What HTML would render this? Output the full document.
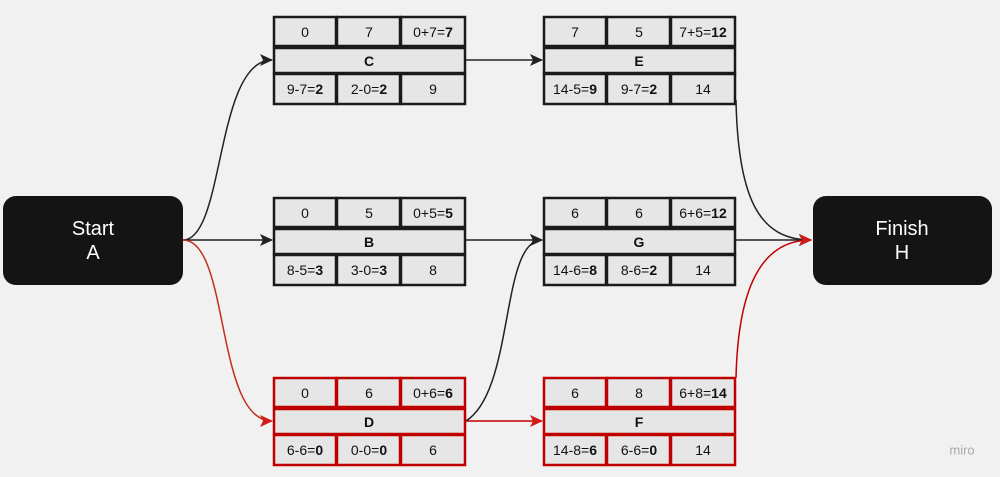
<!DOCTYPE html>
<html><head><meta charset="utf-8"><style>
html,body{margin:0;padding:0;background:#f1f1f1;}
svg{display:block;font-family:"Liberation Sans",Arial,sans-serif;}
.c{fill:#e6e6e6;stroke-width:2.5}
.k .c{stroke:#1a1a1a}
.r .c{stroke:#c00000}
text{font-size:14px;fill:#111;text-anchor:middle;dominant-baseline:central}
</style></head><body>
<svg width="1000" height="477" viewBox="0 0 1000 477">
<defs>
<marker id="ak" markerWidth="13" markerHeight="12" refX="12" refY="6" orient="auto" markerUnits="userSpaceOnUse"><path d="M0,0 L13,6 L0,12 L3,6z" fill="#222"/></marker>
<marker id="ar" markerWidth="13" markerHeight="12" refX="12" refY="6" orient="auto" markerUnits="userSpaceOnUse"><path d="M0,0 L13,6 L0,12 L3,6z" fill="#d21a1a"/></marker>
</defs>
<rect x="3" y="196" width="180" height="89" rx="13" fill="#141414"/>
<text x="93" y="229" style="fill:#fff;font-size:20px">Start</text>
<text x="93" y="253" style="fill:#fff;font-size:20px">A</text>
<rect x="813" y="196" width="179" height="89" rx="13" fill="#141414"/>
<text x="902" y="229" style="fill:#fff;font-size:20px">Finish</text>
<text x="902" y="253" style="fill:#fff;font-size:20px">H</text>
<g fill="none" stroke-width="1.5">
<path d="M183,240 C225,240 215,60 272,60" stroke="#222" marker-end="url(#ak)"/>
<path d="M183,240 L272,240" stroke="#222" marker-end="url(#ak)"/>
<path d="M183,240 C230,240 215,421 272,421" stroke="#c0301a" marker-end="url(#ar)"/>
<path d="M466,60 L542,60" stroke="#222" marker-end="url(#ak)"/>
<path d="M466,240 L542,240" stroke="#222" marker-end="url(#ak)"/>
<path d="M466,421 L542,421" stroke="#c00000" marker-end="url(#ar)"/>
<path d="M466,421 C515,390 500,240 542,240" stroke="#222" marker-end="url(#ak)"/>
<path d="M736,100 C738,200 760,240 811,240" stroke="#222" marker-end="url(#ak)"/>
<path d="M736,240 L811,240" stroke="#222" marker-end="url(#ak)"/>
<path d="M736,378 C738,290 760,240 811,240" stroke="#c00000" marker-end="url(#ar)"/>
</g>
<g class="k" transform="translate(273,16)">
<rect class="c" x="1" y="1" width="62" height="29"/><rect class="c" x="64" y="1" width="63" height="29"/><rect class="c" x="128" y="1" width="64" height="29"/>
<rect class="c" x="1" y="32" width="191" height="25"/>
<rect class="c" x="1" y="58" width="62" height="30"/><rect class="c" x="64" y="58" width="63" height="30"/><rect class="c" x="128" y="58" width="64" height="30"/>
<text x="32" y="16">0</text><text x="96" y="16">7</text><text x="160" y="16">0+7=<tspan font-weight="bold">7</tspan></text>
<text x="96" y="45" font-weight="bold">C</text>
<text x="32" y="73">9-7=<tspan font-weight="bold">2</tspan></text><text x="96" y="73">2-0=<tspan font-weight="bold">2</tspan></text><text x="160" y="73">9</text>
</g>
<g class="k" transform="translate(273,197)">
<rect class="c" x="1" y="1" width="62" height="29"/><rect class="c" x="64" y="1" width="63" height="29"/><rect class="c" x="128" y="1" width="64" height="29"/>
<rect class="c" x="1" y="32" width="191" height="25"/>
<rect class="c" x="1" y="58" width="62" height="30"/><rect class="c" x="64" y="58" width="63" height="30"/><rect class="c" x="128" y="58" width="64" height="30"/>
<text x="32" y="16">0</text><text x="96" y="16">5</text><text x="160" y="16">0+5=<tspan font-weight="bold">5</tspan></text>
<text x="96" y="45" font-weight="bold">B</text>
<text x="32" y="73">8-5=<tspan font-weight="bold">3</tspan></text><text x="96" y="73">3-0=<tspan font-weight="bold">3</tspan></text><text x="160" y="73">8</text>
</g>
<g class="r" transform="translate(273,377)">
<rect class="c" x="1" y="1" width="62" height="29"/><rect class="c" x="64" y="1" width="63" height="29"/><rect class="c" x="128" y="1" width="64" height="29"/>
<rect class="c" x="1" y="32" width="191" height="25"/>
<rect class="c" x="1" y="58" width="62" height="30"/><rect class="c" x="64" y="58" width="63" height="30"/><rect class="c" x="128" y="58" width="64" height="30"/>
<text x="32" y="16">0</text><text x="96" y="16">6</text><text x="160" y="16">0+6=<tspan font-weight="bold">6</tspan></text>
<text x="96" y="45" font-weight="bold">D</text>
<text x="32" y="73">6-6=<tspan font-weight="bold">0</tspan></text><text x="96" y="73">0-0=<tspan font-weight="bold">0</tspan></text><text x="160" y="73">6</text>
</g>
<g class="k" transform="translate(543,16)">
<rect class="c" x="1" y="1" width="62" height="29"/><rect class="c" x="64" y="1" width="63" height="29"/><rect class="c" x="128" y="1" width="64" height="29"/>
<rect class="c" x="1" y="32" width="191" height="25"/>
<rect class="c" x="1" y="58" width="62" height="30"/><rect class="c" x="64" y="58" width="63" height="30"/><rect class="c" x="128" y="58" width="64" height="30"/>
<text x="32" y="16">7</text><text x="96" y="16">5</text><text x="160" y="16">7+5=<tspan font-weight="bold">12</tspan></text>
<text x="96" y="45" font-weight="bold">E</text>
<text x="32" y="73">14-5=<tspan font-weight="bold">9</tspan></text><text x="96" y="73">9-7=<tspan font-weight="bold">2</tspan></text><text x="160" y="73">14</text>
</g>
<g class="k" transform="translate(543,197)">
<rect class="c" x="1" y="1" width="62" height="29"/><rect class="c" x="64" y="1" width="63" height="29"/><rect class="c" x="128" y="1" width="64" height="29"/>
<rect class="c" x="1" y="32" width="191" height="25"/>
<rect class="c" x="1" y="58" width="62" height="30"/><rect class="c" x="64" y="58" width="63" height="30"/><rect class="c" x="128" y="58" width="64" height="30"/>
<text x="32" y="16">6</text><text x="96" y="16">6</text><text x="160" y="16">6+6=<tspan font-weight="bold">12</tspan></text>
<text x="96" y="45" font-weight="bold">G</text>
<text x="32" y="73">14-6=<tspan font-weight="bold">8</tspan></text><text x="96" y="73">8-6=<tspan font-weight="bold">2</tspan></text><text x="160" y="73">14</text>
</g>
<g class="r" transform="translate(543,377)">
<rect class="c" x="1" y="1" width="62" height="29"/><rect class="c" x="64" y="1" width="63" height="29"/><rect class="c" x="128" y="1" width="64" height="29"/>
<rect class="c" x="1" y="32" width="191" height="25"/>
<rect class="c" x="1" y="58" width="62" height="30"/><rect class="c" x="64" y="58" width="63" height="30"/><rect class="c" x="128" y="58" width="64" height="30"/>
<text x="32" y="16">6</text><text x="96" y="16">8</text><text x="160" y="16">6+8=<tspan font-weight="bold">14</tspan></text>
<text x="96" y="45" font-weight="bold">F</text>
<text x="32" y="73">14-8=<tspan font-weight="bold">6</tspan></text><text x="96" y="73">6-6=<tspan font-weight="bold">0</tspan></text><text x="160" y="73">14</text>
</g>
<text x="962" y="450" style="fill:#aaa;font-size:13px">miro</text>
</svg>
</body></html>
